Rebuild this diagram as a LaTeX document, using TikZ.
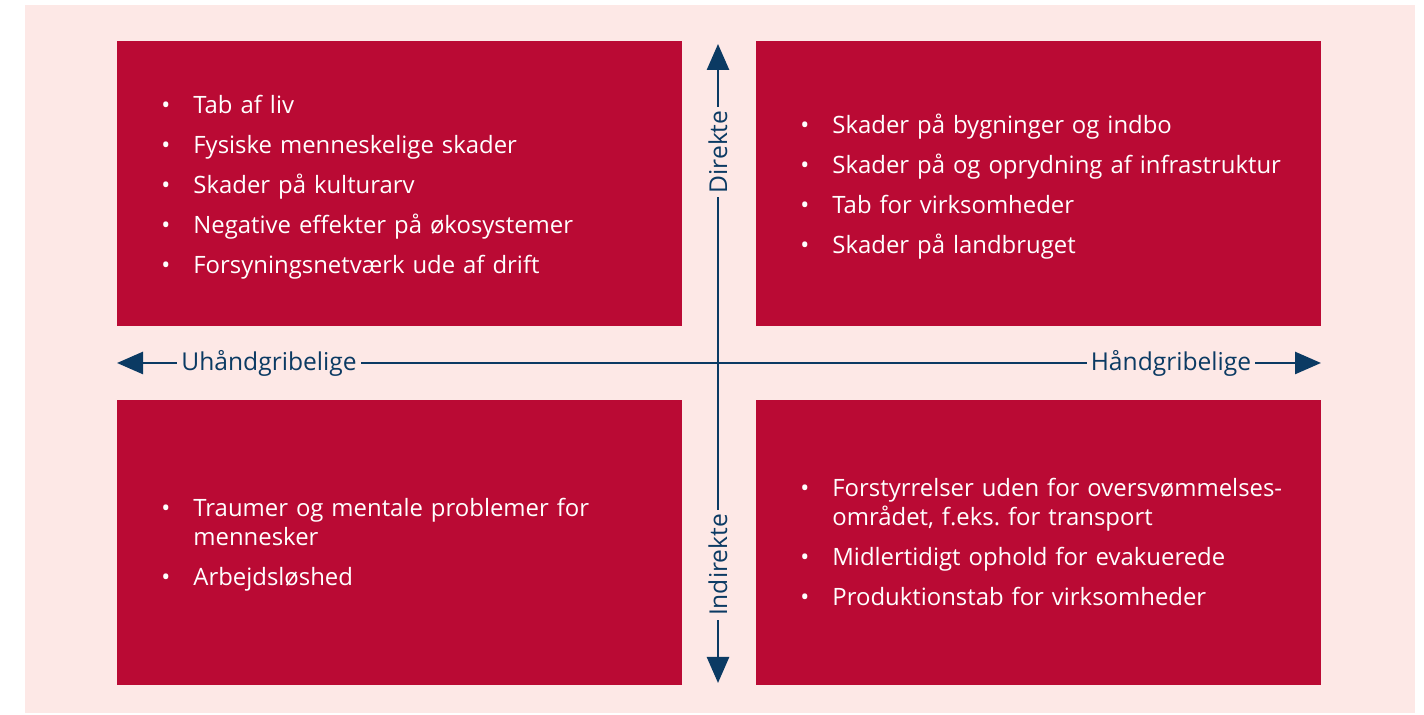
\documentclass[tikz,border=0pt]{standalone}
\usepackage{fontspec}
\setmainfont{Open Sans}
\usepackage{enumitem}
\usetikzlibrary{arrows.meta}

\definecolor{lossred}{HTML}{BA0A34}
\definecolor{losspink}{HTML}{FDE8E6}
\definecolor{lossblue}{HTML}{0B3A63}

\setlist[itemize]{label=\textbullet,align=left,labelwidth=10pt,labelsep=6pt,
  leftmargin=16pt,labelindent=0pt,topsep=0pt,partopsep=0pt,itemsep=5.5pt,parsep=0pt}
\frenchspacing

\begin{document}
\begin{tikzpicture}[x=0.5pt,y=0.5pt,
    box/.style={fill=lossred,minimum width=282.5pt,minimum height=142.5pt,inner sep=0pt},
    items/.style={anchor=west,text width=250pt,inner sep=0pt,text=white,
      font=\fontsize{11.95pt}{14.5pt}\selectfont},
    axis/.style={draw=lossblue,line width=1.3pt,
      {Triangle[length=13pt,width=11pt]}-{Triangle[length=13pt,width=11pt]}},
    axlabel/.style={fill=losspink,text=lossblue,inner sep=2pt,
      font=\fontsize{12.3pt}{14pt}\selectfont}]

    \useasboundingbox (0,0) rectangle (1424,715);
    \fill[losspink] (25,2) rectangle (1415,710);

    % quadrants
    \node[box] (tl) at (399.5,531.5) {};
    \node[box] (tr) at (1038.5,531.5) {};
    \node[box] (bl) at (399.5,172.5) {};
    \node[box] (br) at (1038.5,172.5) {};

    \node[items] (tllist) at (161,533) {\begin{itemize}
        \item Tab af liv
        \item Fysiske menneskelige skader
        \item Skader på kulturarv
        \item Negative effekter på økosystemer
        \item Forsyningsnetværk ude af drift
      \end{itemize}};
    \node[items] (trlist) at (800,533) {\begin{itemize}
        \item Skader på bygninger og indbo
        \item Skader på og oprydning af infrastruktur
        \item Tab for virksomheder
        \item Skader på landbruget
      \end{itemize}};
    \node[items] (bllist) at (161,175.5) {\begin{itemize}
        \item Traumer og mentale problemer for\\ mennesker
        \item Arbejdsløshed
      \end{itemize}};
    \node[items] (brlist) at (800,178) {\begin{itemize}
        \item Forstyrrelser uden for oversvømmelses-\\området, f.eks. for transport
        \item Midlertidigt ophold for evakuerede
        \item Produktionstab for virksomheder
      \end{itemize}};

    % axes
    \coordinate (west) at (117,352);
    \coordinate (east) at (1321,352);
    \coordinate (north) at (718,671);
    \coordinate (south) at (718,32);
    \draw[axis] (south) -- (north);
    \draw[axis] (west) -- (east);

    \node[axlabel] (intangible) at (269,352) {Uhåndgribelige};
    \node[axlabel] (tangible) at (1171,352) {Håndgribelige};
    \node[axlabel,rotate=90] (direct) at (718,563) {Direkte};
    \node[axlabel,rotate=90] (indirect) at (718,150) {Indirekte};
\end{tikzpicture}
\end{document}
